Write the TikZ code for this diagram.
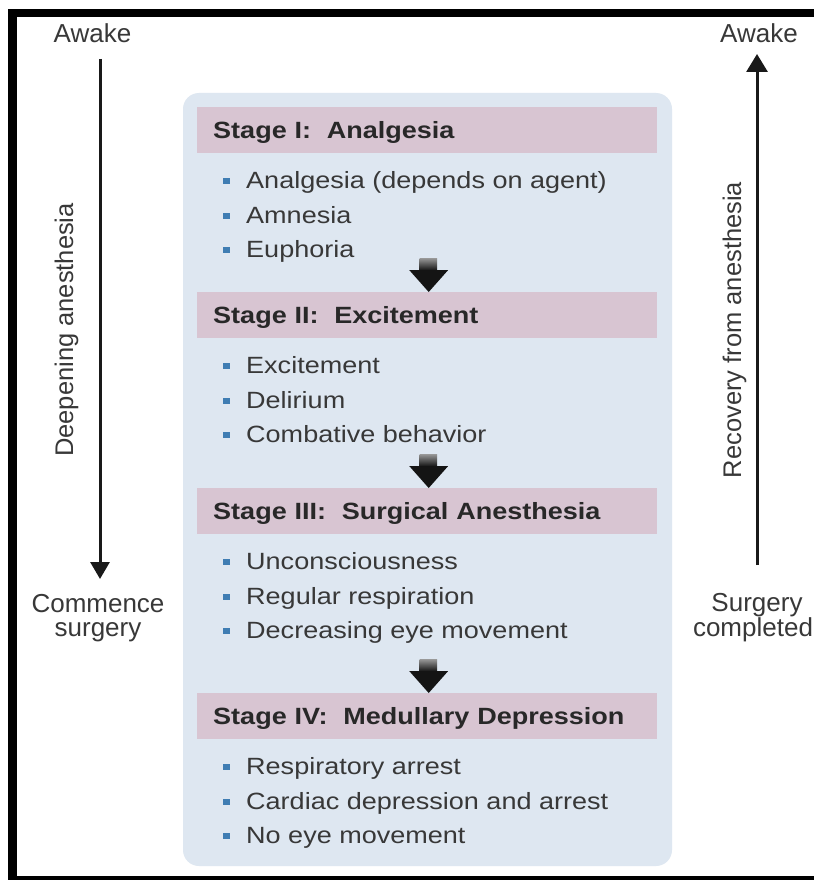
\documentclass[tikz,border=0pt]{standalone}
\usepackage{fontspec}
\setmainfont{Liberation Sans}[FakeStretch=1.15]
\newfontfamily\sidefont{Liberation Sans}
\usetikzlibrary{arrows.meta,calc}
\definecolor{boxblue}{HTML}{DEE7F1}
\definecolor{bandpink}{HTML}{D8C5D2}
\definecolor{bulletblue}{HTML}{3F7DB3}
\definecolor{txt}{HTML}{383838}
\definecolor{hdr}{HTML}{282828}
\begin{document}
\begin{tikzpicture}[x=1pt,y=-1pt,
  lbl/.style={font=\sidefont\fontsize{26}{26}\selectfont, text=txt, inner sep=0pt, anchor=base},
  rlbl/.style={font=\sidefont\fontsize{25.5}{26}\selectfont, text=txt, inner sep=0pt, anchor=base, rotate=90},
  band/.style={fill=bandpink, anchor=north west, minimum width=460pt, minimum height=46pt,
    text width=428pt, inner xsep=16pt, inner ysep=0pt, align=left, text height=17.5pt,
    text depth=0pt, font=\fontsize{23.5}{24}\selectfont\bfseries, text=hdr},
  item/.style={anchor=base west, inner sep=0pt, font=\fontsize{23.5}{24}\selectfont, text=txt},
  bul/.style={fill=bulletblue, minimum width=7.5pt, minimum height=6pt, inner sep=0pt},
  side/.style={line width=3pt, draw=black!90},
]
\useasboundingbox (0,0) rectangle (814,880);
\fill[white] (0,0) rectangle (814,880);
% frame
\fill[black] (8,9) rectangle (814,17);
\fill[black] (8,9) rectangle (17,880);
\fill[black] (8,876) rectangle (814,880);
% main box
\fill[boxblue, rounded corners=16pt] (183,93) rectangle (672,866);
% stage bands
\node[band] (s1) at (197,107) {Stage I:\ \ Analgesia};
\node[band] (s2) at (197,292) {Stage II:\ \ Excitement};
\node[band] (s3) at (197,488) {Stage III:\ \ Surgical Anesthesia};
\node[band] (s4) at (197,693) {Stage IV:\ \ Medullary Depression};
% items
\foreach \s/\a/\b/\c in {s1/Analgesia (depends on agent)/Amnesia/Euphoria,
  s2/Excitement/Delirium/Combative behavior,
  s3/Unconsciousness/Regular respiration/Decreasing eye movement,
  s4/Respiratory arrest/Cardiac depression and arrest/No eye movement}{
  \node[item] (\s a) at ($(\s.south west)+(49,35.5)$) {\a};
  \node[item] (\s b) at ($(\s.south west)+(49,70)$) {\b};
  \node[item] (\s c) at ($(\s.south west)+(49,104.5)$) {\c};
  \node[bul] (\s ab) at ($(\s.south west)+(29.5,28)$) {};
  \node[bul] (\s bb) at ($(\s.south west)+(29.5,62.5)$) {};
  \node[bul] (\s cb) at ($(\s.south west)+(29.5,97)$) {};
}
% block arrows between stages
\foreach \s in {s2,s3,s4}{
  \shade[top color=black!40, bottom color=black!95] ($(\s.north)+(-7.5,-34)$) rectangle ($(\s.north)+(10,-21)$);
  \fill[black!92] ($(\s.north)+(-18,-22)$) -- ($(\s.north)+(21,-22)$) -- ($(\s.north)+(1.5,0)$) -- cycle;
}
% side labels and arrows
\node[lbl] (awakeL) at (92.5,43) {Awake};
\node[lbl] (awakeR) at (759,43) {Awake};
\node[lbl] (comm) at (98,612) {Commence};
\node[lbl] (surg) at (98,636) {surgery};
\node[lbl] (surgR) at (757,611) {Surgery};
\node[lbl] (compl) at (753,636) {completed};
\node[rlbl] (deep) at (73,330) {Deepening anesthesia};
\node[rlbl] (recov) at (741,330) {Recovery from anesthesia};
\coordinate (lt) at (100,59);
\coordinate (lb) at (100,579);
\coordinate (rb) at (757,565);
\coordinate (rt) at (757,54);
\draw[side,-{Triangle[width=19pt,length=17pt]}] (lt) -- (lb);
\draw[side,-{Triangle[width=21pt,length=18pt]}] (rb) -- (rt);
\end{tikzpicture}
\end{document}
